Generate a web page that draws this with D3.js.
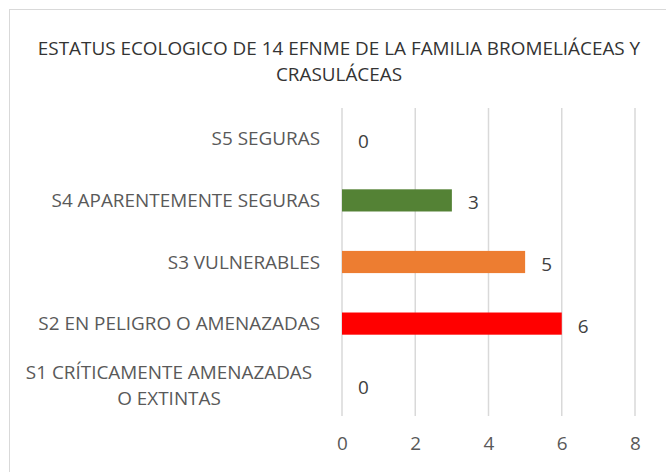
<!DOCTYPE html>
<html>
<head>
<meta charset="utf-8">
<script src="https://cdn.jsdelivr.net/npm/d3@7"></script>
<style>
  body { margin: 0; background: #fff; }
  svg { display: block; font-family: "Open Sans", sans-serif; }
</style>
</head>
<body>
<div id="chart"></div>
<script>
// data
const categories = [
  "S5 SEGURAS",
  "S4 APARENTEMENTE SEGURAS",
  "S3 VULNERABLES",
  "S2 EN PELIGRO O AMENAZADAS",
  "S1 CRÍTICAMENTE AMENAZADAS|O EXTINTAS"
];
const values = [0, 3, 5, 6, 0];
const barColors = ["#548235", "#548235", "#ED7D31", "#FF0000", "#FF0000"];
const xTicks = [0, 2, 4, 6, 8];
const titleLines = ["ESTATUS ECOLOGICO DE 14 EFNME DE LA FAMILIA BROMELIÁCEAS Y", "CRASULÁCEAS"];

const width = 666, height = 472;
const plot = { left: 342, right: 635, top: 108, bottom: 416 };
const fontSize = "18.9px";

const svg = d3.select("#chart").append("svg")
  .attr("width", width)
  .attr("height", height);

// chart border (cropped at right/bottom in the original)
svg.append("rect")
  .attr("x", 9.5).attr("y", 9.5)
  .attr("width", 700).attr("height", 500)
  .attr("fill", "none")
  .attr("stroke", "#d9d9d9");

// title
svg.append("text")
  .attr("text-anchor", "middle")
  .attr("fill", "#333")
  .style("font-size", fontSize)
  .selectAll("tspan")
  .data(titleLines)
  .enter()
  .append("tspan")
  .attr("x", 339)
  .attr("y", (d, i) => 55 + i * 26)
  .text(d => d);

const x = d3.scaleLinear().domain([0, 8]).range([plot.left, plot.right]);
const y = d3.scaleBand().domain(categories).range([plot.top, plot.bottom]).paddingInner(0.64).paddingOuter(0.32);

// gridlines
svg.append("g")
  .selectAll("line")
  .data(xTicks)
  .enter()
  .append("line")
  .attr("x1", d => x(d)).attr("x2", d => x(d))
  .attr("y1", plot.top).attr("y2", plot.bottom)
  .attr("stroke", "#d9d9d9")
  .attr("stroke-width", 1.5);

// x axis labels
const xAxis = svg.append("g")
  .attr("transform", `translate(0,${plot.bottom})`)
  .call(d3.axisBottom(x).tickValues(xTicks).tickSize(0).tickPadding(21));
xAxis.select(".domain").remove();
xAxis.selectAll("text")
  .attr("fill", "#595959")
  .style("font-size", fontSize)
  .style("font-family", "'Open Sans', sans-serif");

// category labels
const catG = svg.append("g");
categories.forEach(c => {
  const lines = c.split("|");
  const cy = y(c) + y.bandwidth() / 2;
  const t = catG.append("text")
    .attr("fill", "#595959")
    .style("font-size", fontSize)
    .attr("text-anchor", lines.length > 1 ? "middle" : "end");
  lines.forEach((l, i) => {
    t.append("tspan")
      .attr("x", lines.length > 1 ? 169 : 320)
      .attr("y", cy + (i - (lines.length - 1) / 2) * 26)
      .attr("dy", "0.35em")
      .text(l);
  });
});

// bars
svg.append("g")
  .selectAll("rect")
  .data(values)
  .enter()
  .append("rect")
  .attr("x", x(0))
  .attr("y", (d, i) => y(categories[i]))
  .attr("width", d => x(d) - x(0))
  .attr("height", y.bandwidth())
  .attr("fill", (d, i) => barColors[i]);

// value labels
svg.append("g")
  .selectAll("text")
  .data(values)
  .enter()
  .append("text")
  .attr("x", d => x(d) + 16)
  .attr("y", (d, i) => y(categories[i]) + y.bandwidth() / 2)
  .attr("dy", "0.48em")
  .attr("fill", "#404040")
  .style("font-size", fontSize)
  .text(d => d);
</script>
</body>
</html>
